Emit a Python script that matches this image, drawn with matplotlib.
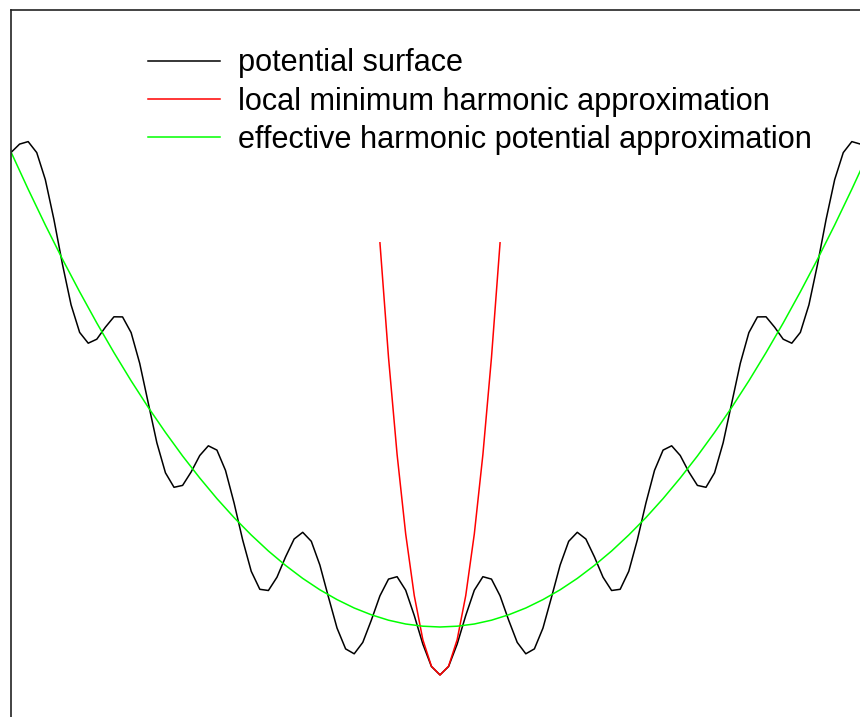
import numpy as np
import matplotlib
matplotlib.use("Agg")
import matplotlib.pyplot as plt

plt.rcParams['font.family'] = ['Liberation Sans', 'DejaVu Sans']

# grid coordinate (arbitrary units)
x_potential = np.linspace(-50, 50, 101)
# potential surface values (u = -50 ... 50)
potential = [
    564.5, 572.9, 575.4, 564.4, 537.4, 497.6, 452.6, 412.2, 384.6, 373.8,
    377.8, 389.8, 400.2, 400.1, 384.4, 353.7, 313.9, 274.2, 244.2, 229.7,
    231.6, 245.1, 261.5, 271.2, 266.9, 246.6, 214.0, 177.1, 145.7, 127.7,
    126.5, 139.8, 160.1, 178.0, 184.7, 175.7, 151.9, 119.9, 88.9, 68.1,
    63.2, 74.6, 96.9, 121.2, 137.9, 140.3, 126.8, 101.5, 72.9, 50.5,
    42.1,
    50.5, 72.9, 101.5, 126.8, 140.3, 137.9, 121.2, 96.9, 74.6, 63.2,
    68.1, 88.9, 119.9, 151.9, 175.7, 184.7, 178.0, 160.1, 139.8, 126.5,
    127.7, 145.7, 177.1, 214.0, 246.6, 266.9, 271.2, 261.5, 245.1, 231.6,
    229.7, 244.2, 274.2, 313.9, 353.7, 384.4, 400.1, 400.2, 389.8, 377.8,
    373.8, 384.6, 412.2, 452.6, 497.6, 537.4, 564.4, 575.4, 572.9, 564.5,
]

x_local = np.linspace(-7, 7, 15)
local_harmonic = [474.2, 359.5, 262.5, 183.1, 121.4, 77.3, 50.8, 42.0,
                  50.8, 77.3, 121.4, 183.1, 262.5, 359.5, 474.2]

x_effective = np.linspace(-50, 50, 51)
effective_harmonic = [
    565.0, 527.8, 492.0, 457.8, 425.2, 394.0, 364.4, 336.2, 309.6, 284.6,
    261.0, 239.0, 218.4, 199.4, 182.0, 166.0, 151.6, 138.6, 127.2, 117.4,
    109.0, 102.2, 96.8, 93.0, 90.8,
    90.0,
    90.8, 93.0, 96.8, 102.2, 109.0, 117.4, 127.2, 138.6, 151.6, 166.0,
    182.0, 199.4, 218.4, 239.0, 261.0, 284.6, 309.6, 336.2, 364.4, 394.0,
    425.2, 457.8, 492.0, 527.8, 565.0,
]

labels = ["potential surface",
          "local minimum harmonic approximation",
          "effective harmonic potential approximation"]
colors = ["#000000", "#ff0000", "#00ff00"]

W, H = 860, 717
fig = plt.figure(figsize=(W / 100, H / 100), dpi=100)
ax = fig.add_axes([11 / W, 0, 858 / W, 707 / H])

l1, = ax.plot(x_potential, potential, color=colors[0], lw=1.1, label=labels[0])
l2, = ax.plot(x_local, local_harmonic, color=colors[1], lw=1.1, label=labels[1])
l3, = ax.plot(x_effective, effective_harmonic, color=colors[2], lw=1.1, label=labels[2])

ax.set_xlim(-50, 50)
ax.set_ylim(0, 707)
ax.set_xticks([])
ax.set_yticks([])
for s in ['right', 'bottom']:
    ax.spines[s].set_visible(False)
for s in ['left', 'top']:
    ax.spines[s].set_color('#222222')
    ax.spines[s].set_linewidth(1.2)

ax.legend(handles=[l1, l2, l3], loc='upper left',
          bbox_to_anchor=(148 / W, 1 - 48.5 / H), bbox_transform=fig.transFigure,
          frameon=False, fontsize=22.1, handlelength=2.35, handletextpad=0.59,
          labelspacing=0.27, borderpad=0, borderaxespad=0)

fig.savefig("out.png", dpi=100)
